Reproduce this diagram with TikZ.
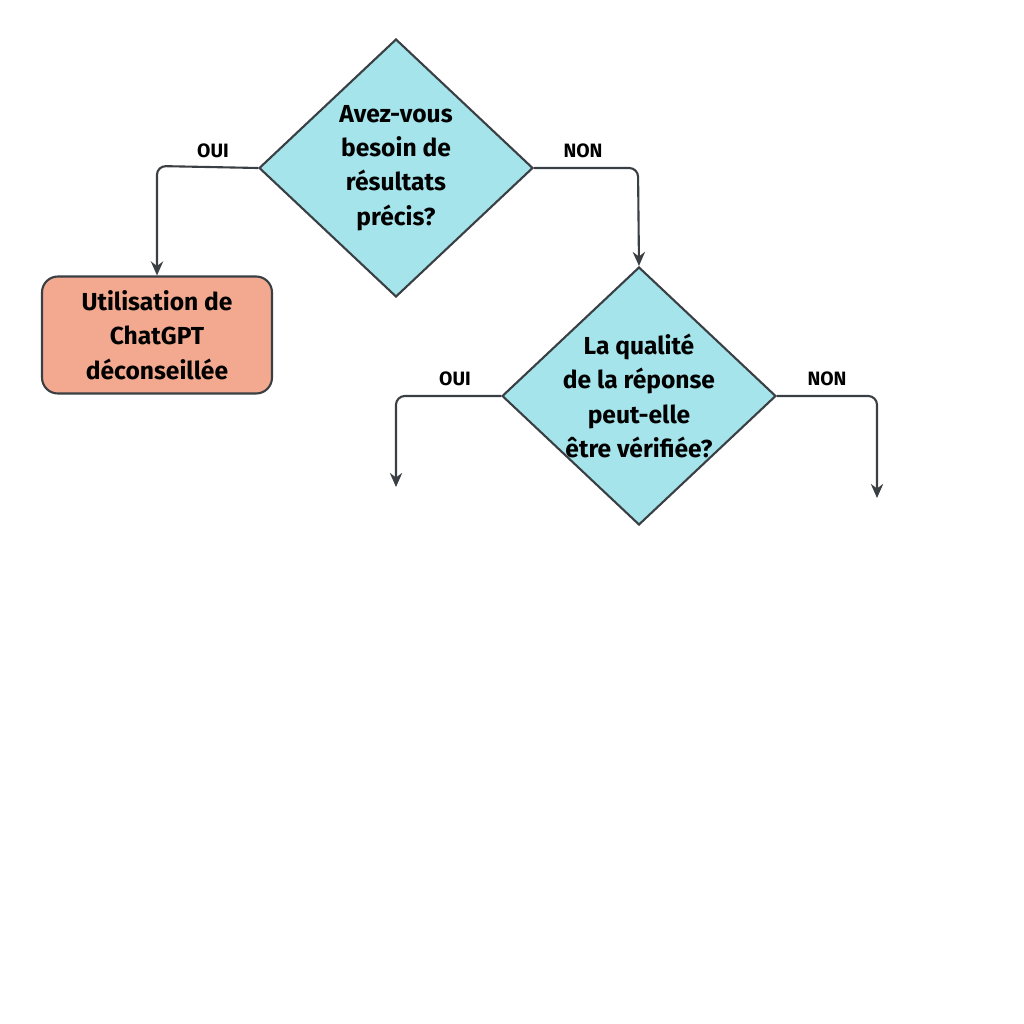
\documentclass[tikz,border=0pt]{standalone}
\usepackage{fontspec}
\setmainfont{Fira Sans}
\usetikzlibrary{shapes.geometric,arrows.meta}
\definecolor{qcyan}{HTML}{A4E4EA}
\definecolor{qsalmon}{HTML}{F2A98F}
\definecolor{qline}{HTML}{3A3F44}
\begin{document}
\begin{tikzpicture}[x=0.02cm,y=-0.02cm]
\tikzset{
  question/.style={diamond,draw=qline,line width=1.2pt,fill=qcyan,inner sep=-8pt,
    minimum width=5.48cm,minimum height=5.16cm,align=center,
    font=\fontsize{14}{19.5}\selectfont\bfseries},
  answer/.style={rectangle,rounded corners=9pt,draw=qline,line width=1.2pt,fill=qsalmon,
    minimum width=4.6cm,minimum height=2.34cm,align=center,
    font=\fontsize{14}{19.5}\selectfont\bfseries},
  flow/.style={-{Stealth[length=8pt,width=7pt]},draw=qline,line width=1.2pt,rounded corners=5pt},
  lbl/.style={font=\fontsize{11}{13}\selectfont\bfseries,text=black}
}
\useasboundingbox (0,0) rectangle (1024,1024);

\node[question] (precis) at (396,168) {Avez-vous\\besoin de\\résultats\\précis?};
\node[answer] (deconseille) at (157,335) {Utilisation de\\ChatGPT\\déconseillée};
\node[question] (verif) at (639,396) {La qualité\\de la réponse\\peut-elle\\être vérifiée?};

\coordinate (ouiEnd) at (396,487);
\coordinate (nonEnd) at (877,498);

\draw[flow] (precis.west) -- (157,166) -- (deconseille.north);
\node[lbl] (ouiA) at (213,151) {OUI};
\draw[flow] (precis.east) -- (638,168) -- (verif.north);
\node[lbl] (nonA) at (583,151) {NON};

\draw[flow] (verif.west) -- (396,396) -- (ouiEnd);
\node[lbl] (ouiB) at (455,379) {OUI};
\draw[flow] (verif.east) -- (877,396) -- (nonEnd);
\node[lbl] (nonB) at (827,379) {NON};

\end{tikzpicture}
\end{document}
